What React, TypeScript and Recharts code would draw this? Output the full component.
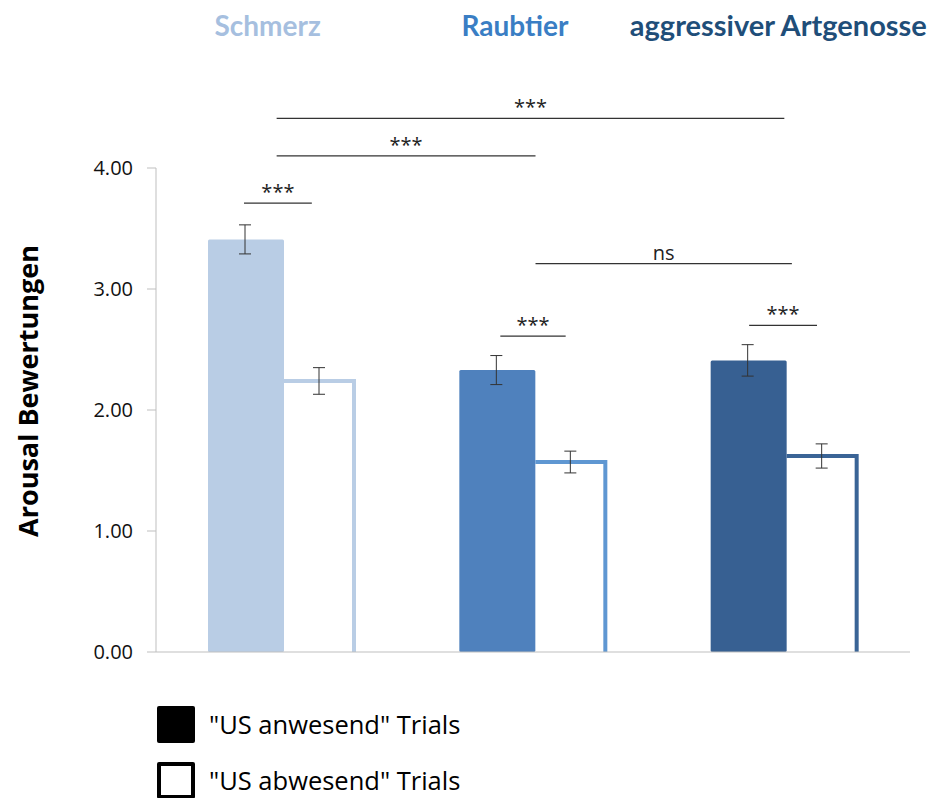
import React from 'react';
import { BarChart, Bar, XAxis, YAxis, ErrorBar, ReferenceLine, Legend, Label } from 'recharts';

const categories = ['Schmerz', 'Raubtier', 'aggressiver Artgenosse'];
const presentMeans = [3.41, 2.33, 2.41];
const presentErrors = [0.12, 0.12, 0.13];
const absentMeans = [2.24, 1.57, 1.62];
const absentErrors = [0.11, 0.09, 0.1];
const yTicks = [0, 1, 2, 3, 4];
const seriesNames = ['"US anwesend" Trials', '"US abwesend" Trials'];
const yAxisTitle = 'Arousal Bewertungen';

// significance brackets: x in category units (0..3), y in rating units
const bracketX1 = [0.48, 0.48, 0.35, 1.51, 1.37, 2.36];
const bracketX2 = [2.5, 1.51, 0.62, 2.53, 1.63, 2.63];
const bracketY = [4.41, 4.1, 3.71, 3.21, 2.61, 2.7];
const bracketLabels = ['***', '***', '***', 'ns', '***', '***'];

const presentColors = ['#B9CDE5', '#4F81BD', '#376092'];
const absentColors = ['#B9CDE5', '#5F97D2', '#3A6496'];
const titleColors = ['#A6BFDF', '#3A7EC4', '#1F4E79'];
const titleDx = [-14, -18, -6];

const data = categories.map((c, i) => ({
  category: c,
  pos: i + 0.5,
  present: presentMeans[i],
  presentErr: presentErrors[i],
  absent: absentMeans[i],
  absentErr: absentErrors[i],
}));

const PresentShape = (props: any) => {
  const { x, y, width, height, index } = props;
  return <rect x={x} y={y} width={width + 2} height={height} fill={presentColors[index]} rx={1.5} />;
};

const AbsentShape = (props: any) => {
  const { x, y, width, height, index } = props;
  const d = `M ${x + 2} ${y} L ${x + width - 2} ${y} L ${x + width - 2} ${y + height}`;
  return <path d={d} fill="none" stroke={absentColors[index]} strokeWidth={4} />;
};

const TitleTick = (props: any) => {
  const { x, payload, index } = props;
  return (
    <text
      x={x + titleDx[index]}
      y={36}
      textAnchor="middle"
      fill={titleColors[index]}
      fontFamily="Lato"
      fontWeight={700}
      fontSize={index === 2 ? 29 : 28}
    >
      {payload.value}
    </text>
  );
};

const LegendContent = () => (
  <div style={{ fontFamily: 'Open Sans', fontSize: 25.5, color: '#000' }}>
    <div style={{ display: 'flex', alignItems: 'center', height: 37 }}>
      <div style={{ width: 38, height: 37, background: '#000', borderRadius: 2 }} />
      <span style={{ marginLeft: 14, lineHeight: '37px' }}>{seriesNames[0]}</span>
    </div>
    <div style={{ display: 'flex', alignItems: 'center', height: 37, marginTop: 19 }}>
      <div style={{ width: 38, height: 37, border: '4px solid #000', boxSizing: 'border-box', borderRadius: 2 }} />
      <span style={{ marginLeft: 14, lineHeight: '37px' }}>{seriesNames[1]}</span>
    </div>
  </div>
);

export default function App() {
  return (
    <div style={{ position: 'absolute', left: 0, top: 0, width: 935, height: 798, background: '#fff' }}>
      <BarChart
        width={935}
        height={798}
        data={data}
        barGap={0}
        margin={{ top: 167, right: 25, bottom: 145, left: 0 }}
      >
        <XAxis
          dataKey="category"
          tick={false}
          tickLine={false}
          height={1}
          axisLine={{ stroke: '#BFBFBF' }}
        />
        <XAxis
          xAxisId="top"
          dataKey="category"
          orientation="top"
          height={1}
          axisLine={false}
          tickLine={false}
          interval={0}
          tick={<TitleTick />}
        />
        <XAxis xAxisId="n" dataKey="pos" type="number" domain={[0, 3]} allowDataOverflow hide />
        <YAxis
          domain={[0, 4]}
          ticks={yTicks}
          interval={0}
          tickFormatter={(v: number) => v.toFixed(2)}
          width={156}
          tickSize={9}
          tickMargin={14}
          axisLine={{ stroke: '#BFBFBF' }}
          tickLine={{ stroke: '#BFBFBF' }}
          tick={{ fill: '#111', fontSize: 20, fontFamily: 'Open Sans' }}
        >
          <Label
            content={(p: any) => {
              const vb = p.viewBox || { x: 0, y: 168, width: 156, height: 484 };
              const cx = vb.x + 27;
              const cy = vb.y + vb.height / 2 - 19;
              return (
                <text
                  x={cx}
                  y={cy}
                  transform={`rotate(-90, ${cx}, ${cy})`}
                  textAnchor="middle"
                  dominantBaseline="central"
                  fontFamily="Open Sans"
                  fontWeight={700}
                  fontSize={27}
                  fill="#000"
                >
                  {yAxisTitle}
                </text>
              );
            }}
          />
        </YAxis>
        <Legend
          layout="vertical"
          align="center"
          verticalAlign="middle"
          wrapperStyle={{ left: 157, top: 706, width: 400 }}
          content={() => <LegendContent />}
        />
        <Bar dataKey="present" name={seriesNames[0]} barSize={74} shape={PresentShape} isAnimationActive={false}>
          <ErrorBar dataKey="presentErr" width={6} stroke="#333" strokeWidth={1} />
        </Bar>
        <Bar dataKey="absent" name={seriesNames[1]} barSize={74} shape={AbsentShape} isAnimationActive={false}>
          <ErrorBar dataKey="absentErr" width={6} stroke="#333" strokeWidth={1} />
        </Bar>
        {bracketY.map((yv, i) => (
          <ReferenceLine
            key={i}
            xAxisId="n"
            segment={[
              { x: bracketX1[i], y: yv },
              { x: bracketX2[i], y: yv },
            ]}
            stroke="#333"
            strokeWidth={1.3}
            ifOverflow="visible"
            label={{
              value: bracketLabels[i],
              position: 'top',
              fill: '#222',
              fontSize: 20,
              fontFamily: 'Open Sans',
              offset: 4,
            }}
          />
        ))}
      </BarChart>
    </div>
  );
}
